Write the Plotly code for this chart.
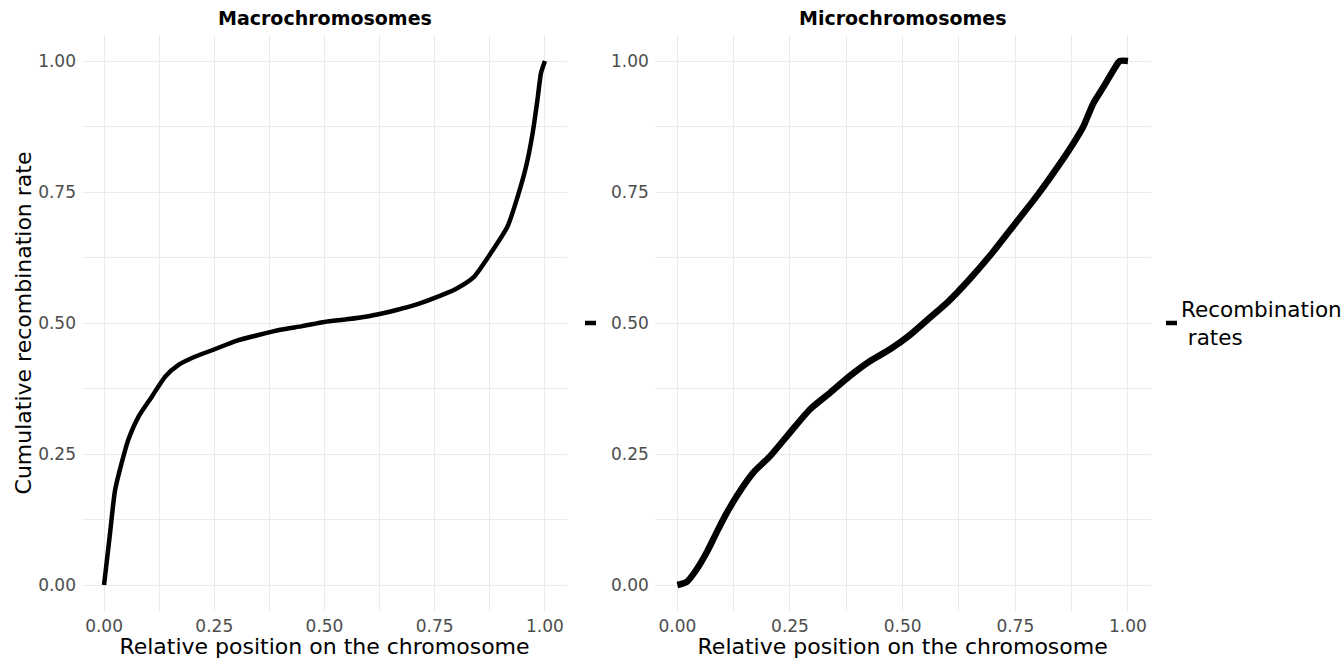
import plotly.graph_objects as go

# Cumulative recombination rate along the relative chromosome position
macro_pos = [0.0, 0.0136, 0.025, 0.040, 0.055, 0.078, 0.108, 0.139, 0.169, 0.207,
             0.245, 0.30, 0.35, 0.40, 0.45, 0.50, 0.55, 0.60, 0.65, 0.70,
             0.75, 0.80, 0.839, 0.877, 0.915, 0.938, 0.957, 0.972, 0.983, 0.991, 1.0]
macro_cum = [0.0, 0.099, 0.181, 0.233, 0.277, 0.321, 0.359, 0.398, 0.420, 0.436,
             0.448, 0.466, 0.477, 0.487, 0.494, 0.502, 0.507, 0.513, 0.522, 0.533,
             0.548, 0.566, 0.588, 0.633, 0.684, 0.741, 0.798, 0.862, 0.926, 0.977, 1.0]

micro_pos = [0.0, 0.021, 0.043, 0.065, 0.087, 0.110, 0.132, 0.169, 0.206, 0.25,
             0.294, 0.339, 0.383, 0.427, 0.472, 0.513, 0.56, 0.60, 0.65, 0.70,
             0.75, 0.80, 0.86, 0.879, 0.901, 0.923, 0.946, 0.968, 0.982, 1.0]
micro_cum = [0.0, 0.006, 0.030, 0.062, 0.100, 0.138, 0.170, 0.215, 0.246, 0.291,
             0.335, 0.367, 0.399, 0.427, 0.450, 0.475, 0.510, 0.540, 0.585, 0.635,
             0.690, 0.745, 0.818, 0.843, 0.875, 0.919, 0.951, 0.983, 1.0, 1.0]

tick_vals = [0, 0.25, 0.5, 0.75, 1.0]
tick_text = ["0.00", "0.25", "0.50", "0.75", "1.00"]
minor_vals = [0.125, 0.375, 0.625, 0.875]

panel_titles = ["Macrochromosomes", "Microchromosomes"]
x_title = "Relative position on the chromosome"
y_title = "Cumulative recombination rate"
legend_label = "Recombination<br>\u00a0rates"

W, H = 1343, 659
FONT = "DejaVu Sans"
GRID = "#ebebeb"

fig = go.Figure()
fig.add_trace(go.Scatter(x=macro_pos, y=macro_cum, mode="lines",
                         line=dict(color="black", width=4.5, shape="spline", smoothing=0.6),
                         xaxis="x", yaxis="y", showlegend=False))
fig.add_trace(go.Scatter(x=micro_pos, y=micro_cum, mode="lines",
                         line=dict(color="black", width=6.5, shape="spline", smoothing=0.6),
                         xaxis="x2", yaxis="y2", showlegend=False))

# panel pixel extents
left_dom = [82 / W, 567 / W]
right_dom = [654.8 / W, 1150.5 / W]
y_dom = [1 - 611.2 / H, 1 - 34.8 / H]

axis_common = dict(range=[-0.05, 1.05], tickvals=tick_vals, ticktext=tick_text,
                   showgrid=True, gridcolor=GRID, gridwidth=1.1, zeroline=False,
                   showline=False, ticks="", tickfont=dict(family=FONT, size=17, color="#4d4d4d"),
                   minor=dict(tickvals=minor_vals, showgrid=True, gridcolor=GRID, gridwidth=0.55),
                   fixedrange=True)

title_font = dict(family=FONT, size=22, color="black")

fig.update_layout(
    width=W, height=H, margin=dict(l=0, r=0, t=0, b=0),
    paper_bgcolor="white", plot_bgcolor="white",
    font=dict(family=FONT, color="black"),
    xaxis=dict(domain=left_dom, anchor="y", ticklabelstandoff=3,
               title=dict(text=x_title, font=title_font, standoff=0), **axis_common),
    yaxis=dict(domain=y_dom, anchor="x", ticklabelstandoff=5,
               title=dict(text=y_title, font=title_font, standoff=0), **axis_common),
    xaxis2=dict(domain=right_dom, anchor="y2", ticklabelstandoff=3,
                title=dict(text=x_title, font=title_font, standoff=0), **axis_common),
    yaxis2=dict(domain=y_dom, anchor="x2", ticklabelstandoff=5, **axis_common),
    showlegend=False,
)

# panel titles
for name, dom in zip(panel_titles, [left_dom, right_dom]):
    fig.add_annotation(text=f"<b>{name}</b>", xref="paper", yref="paper",
                       x=(dom[0] + dom[1]) / 2, y=1 - 18 / H, xanchor="center", yanchor="middle",
                       showarrow=False, font=dict(family=FONT, size=19, color="black"))

# legend keys (one per panel)
key_y = 1 - 323 / H
for x0, x1 in [(585, 596), (1166, 1177)]:
    fig.add_shape(type="line", xref="paper", yref="paper", x0=x0 / W, x1=x1 / W,
                  y0=key_y, y1=key_y, line=dict(color="black", width=4.5))

fig.add_annotation(text=legend_label, xref="paper", yref="paper", x=1179 / W, y=1 - 323 / H,
                   xanchor="left", yanchor="middle", align="left", showarrow=False,
                   font=dict(family=FONT, size=21.5, color="black"))

fig.write_html("out.html")
